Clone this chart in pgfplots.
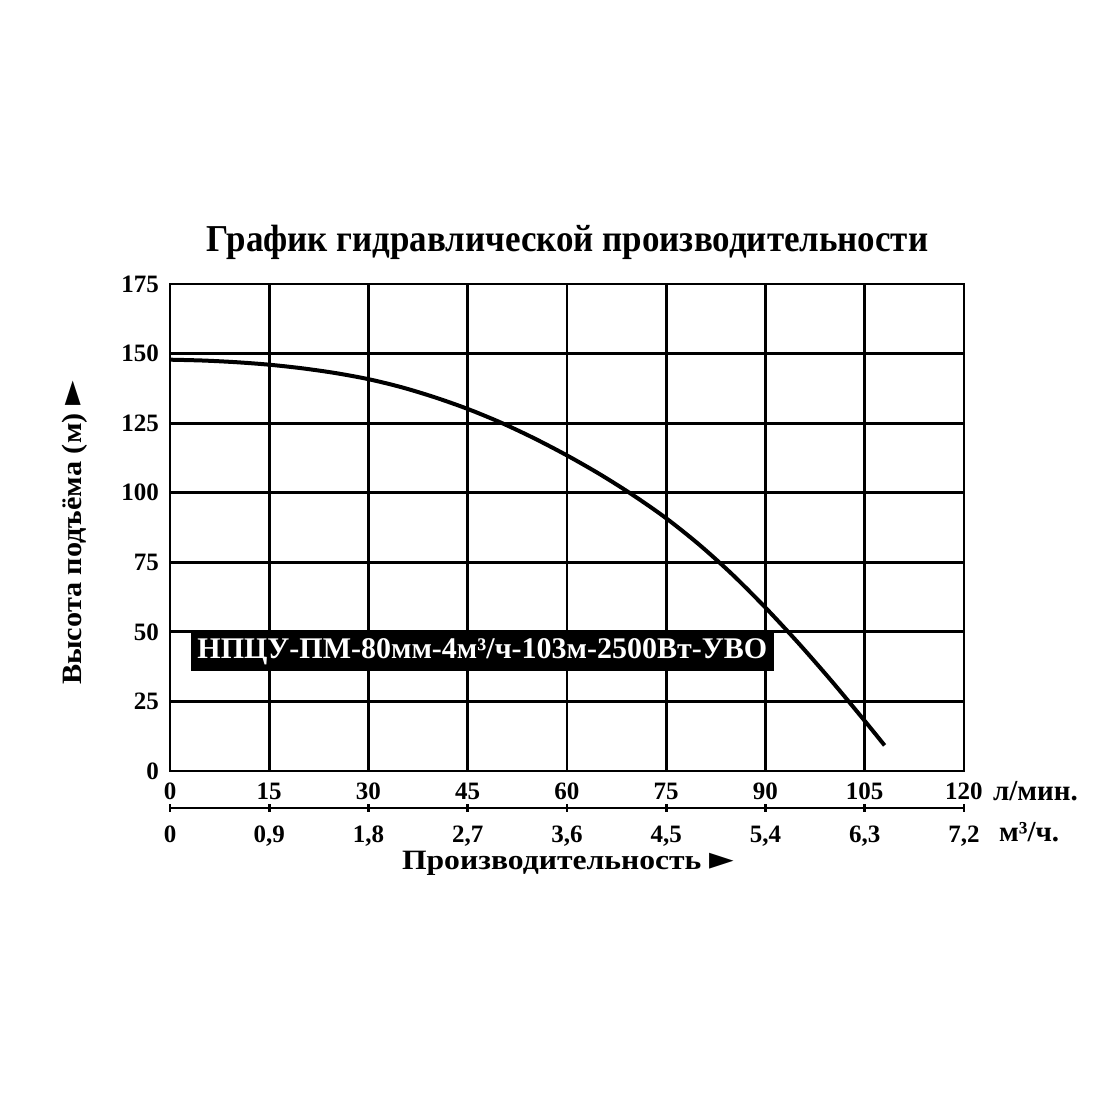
\documentclass[border=0pt]{standalone}
\usepackage{pgfplots}
\pgfplotsset{compat=1.18}
\usepackage{fontspec}
\setmainfont{Liberation Serif}
\newfontfamily\wide[FakeStretch=1.13]{Liberation Serif}
\newfontfamily\widey[FakeStretch=1.08]{Liberation Serif}
\newfontfamily\condt[FakeStretch=0.92]{Liberation Serif}
\newfontfamily\dejavu{DejaVu Sans}
\begin{document}
\begin{tikzpicture}[x=1pt,y=1pt]
\path[use as bounding box] (0,0) rectangle (550,550);
\begin{axis}[
  at={(85pt,164.5pt)}, anchor=south west,
  scale only axis, width=397pt, height=243.5pt,
  xmin=0, xmax=120, ymin=0, ymax=175,
  xtick={0,15,...,120}, ytick={0,25,...,175},
  grid=major, major grid style={black, line width=1.4pt},
  axis line style={line width=1.4pt},
  major tick length=0pt,
  /pgf/number format/assume math mode=true,
  tick label style={font=\fontsize{12.5}{14}\selectfont\bfseries},
  xticklabel style={yshift=-2pt, text height=8.5pt, text depth=0pt},
  yticklabel style={xshift=-2pt},
  clip=false]
\addplot[black, line width=2pt, smooth] coordinates {
(0,147.8) (5,147.5) (10,146.9) (15,146.0) (20,144.7) (25,143.0) (30,140.8)
(35,137.9) (40,134.3) (45,130.1) (50,125.2) (55,119.6) (60,113.4) (65,106.6)
(70,99.1) (75,90.8) (80,81.3) (85,70.6) (90,58.7) (95,45.9) (100,32.3)
(105,18.0) (108,9.2)};
\node[fill=black, text=white, inner sep=0pt, minimum width=291.5pt, minimum height=19.5pt,
  font=\fontsize{15}{17}\selectfont\bfseries] at (axis cs:47.2,43.0)
  {НПЦУ-ПМ-80мм-4м³/ч-103м-2500Вт-УВО};
\end{axis}
\begin{axis}[
  at={(85pt,146pt)}, anchor=south west,
  scale only axis, width=397pt, height=10pt,
  xmin=0, xmax=7.2, ymin=0, ymax=1,
  axis x line=bottom, hide y axis,
  axis line style={line width=1.4pt, -},
  xtick={0,0.9,1.8,2.7,3.6,4.5,5.4,6.3,7.2},
  xticklabels={0,{0,9},{1,8},{2,7},{3,6},{4,5},{5,4},{6,3},{7,2}},
  tick align=center, major tick length=4pt,
  major tick style={line width=1.4pt, black},
  tick label style={font=\fontsize{12.5}{14}\selectfont\bfseries},
  xticklabel style={yshift=-3pt, text height=8.5pt, text depth=0pt}]
\addplot[draw=none] coordinates {(0,0)};
\end{axis}
\node[anchor=west, font=\fontsize{14.5}{16}\selectfont\bfseries] at (493pt,154.5pt) {л/мин.};
\node[anchor=west, font=\fontsize{14.5}{16}\selectfont\bfseries] at (496pt,134pt) {м³/ч.};
\node[font=\fontsize{19}{22}\selectfont\bfseries\condt] at (283.75pt,429pt) {График гидравлической производительности};
\node[font=\fontsize{14}{16}\selectfont\bfseries\wide, inner sep=1pt] at (284pt,118.5pt) {Производительность {\dejavu\fontsize{16}{16}\selectfont ►}};
\node[rotate=90, font=\fontsize{14}{16}\selectfont\bfseries\widey] at (37.5pt,283.5pt) {Высота подъёма (м) {\dejavu\fontsize{16}{16}\selectfont ►}};
\end{tikzpicture}
\end{document}
